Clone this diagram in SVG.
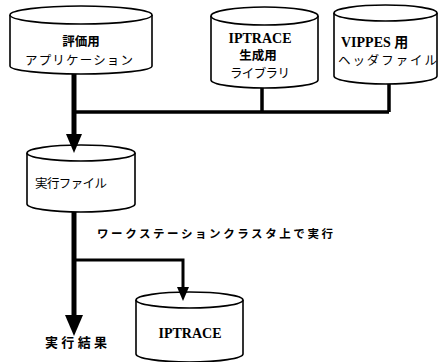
<svg xmlns="http://www.w3.org/2000/svg" width="439" height="362" viewBox="0 0 439 362">
<style>
.cyl{fill:#fff;stroke:#000;stroke-width:1.6}
.jp{font-family:"Noto Sans CJK JP","Noto Sans",sans-serif;font-size:12.5px;fill:#000}
.jpb{font-family:"Noto Sans CJK JP","Noto Sans",sans-serif;font-size:12.5px;font-weight:bold;fill:#000}
.en{font-family:"Liberation Serif","Noto Sans CJK JP",serif;font-size:14px;font-weight:bold;fill:#000}
.ln{fill:none;stroke:#000}
</style>
<rect width="439" height="362" fill="#fff"/>
<g id="app">
<path class="cyl" d="M10,15 L10,66 A71,8 0 0 0 152,66 L152,15"/>
<ellipse class="cyl" cx="81" cy="15" rx="71" ry="9"/>
<text class="jpb" x="81" y="46" text-anchor="middle">評価用</text>
<text class="jp" x="25" y="65" textLength="108" lengthAdjust="spacing">アプリケーション</text>
</g>
<g id="lib">
<path class="cyl" d="M211,16 L211,80 A53.5,8 0 0 0 318,80 L318,16"/>
<ellipse class="cyl" cx="264.5" cy="16" rx="53.5" ry="9"/>
<text class="en" x="260" y="43" text-anchor="middle">IPTRACE</text>
<text class="jpb" x="258" y="60" text-anchor="middle">生成用</text>
<text class="jp" x="230" y="78" textLength="60" lengthAdjust="spacing">ライブラリ</text>
</g>
<g id="header">
<path class="cyl" d="M334,13 L334,76 A51.5,8 0 0 0 437,76 L437,13"/>
<ellipse class="cyl" cx="385.5" cy="13" rx="51.5" ry="8"/>
<text class="en" x="341" y="47">VIPPES 用</text>
<text class="jp" x="338" y="65" textLength="99" lengthAdjust="spacing">ヘッダファイル</text>
</g>
<g id="exec">
<path class="cyl" d="M27,153 L27,204 A54,8 0 0 0 135,204 L135,153"/>
<ellipse class="cyl" cx="81" cy="153" rx="54" ry="8"/>
<text class="jp" x="35" y="188" textLength="72" lengthAdjust="spacing">実行ファイル</text>
</g>
<g id="cluster-label">
<text class="jpb" x="97" y="238" textLength="236" lengthAdjust="spacing" style="font-size:11.5px">ワークステーションクラスタ上で実行</text>
</g>
<g id="result">
<text class="jpb" x="45" y="347" textLength="62" lengthAdjust="spacing" style="font-size:13px">実行結果</text>
</g>
<g id="trace">
<path class="cyl" d="M136,300 L136,354 A53.5,8 0 0 0 243,354 L243,300"/>
<ellipse class="cyl" cx="189.5" cy="300" rx="53.5" ry="8"/>
<text class="en" x="190" y="338" text-anchor="middle">IPTRACE</text>
</g>
<g id="connectors">
<line class="ln" x1="74" y1="74" x2="74" y2="137" stroke-width="5"/>
<polygon points="66,134 82,134 74,153" fill="#000"/>
<polyline class="ln" points="74,112 389,112" stroke-width="3.5"/>
<line class="ln" x1="262" y1="88" x2="262" y2="112" stroke-width="3.5"/>
<line class="ln" x1="389" y1="84" x2="389" y2="112" stroke-width="3.5"/>
<line class="ln" x1="74" y1="212" x2="74" y2="318" stroke-width="5"/>
<polygon points="65,315 83,315 74,336" fill="#000"/>
<polyline class="ln" points="74,260 183,260 183,290" stroke-width="3"/>
<polygon points="177,287 189,287 183,301" fill="#000"/>
</g>
</svg>
